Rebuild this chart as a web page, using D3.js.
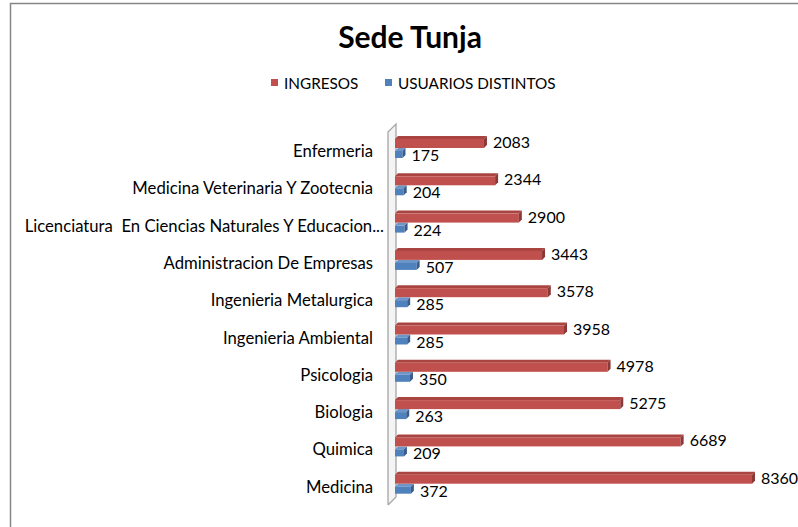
<!DOCTYPE html>
<html>
<head>
<meta charset="utf-8">
<script src="https://d3js.org/d3.v7.min.js"></script>
<style>
  body { margin: 0; background: #fff; }
  text { font-family: Lato, "Open Sans", sans-serif; fill: #000; white-space: pre; }
</style>
</head>
<body>
<div id="chart"></div>
<script>
var categories = ["Enfermeria", "Medicina Veterinaria Y Zootecnia",
    "Licenciatura  En Ciencias Naturales Y Educacion...", "Administracion De Empresas",
    "Ingenieria Metalurgica", "Ingenieria Ambiental", "Psicologia", "Biologia",
    "Quimica", "Medicina"];
var ingresos = [2083, 2344, 2900, 3443, 3578, 3958, 4978, 5275, 6689, 8360];
var usuarios = [175, 204, 224, 507, 285, 285, 350, 263, 209, 372];
var seriesNames = ["INGRESOS", "USUARIOS DISTINTOS"];

var width = 798, height = 527;
var depth = 3;

var svg = d3.select("#chart").append("svg")
    .attr("width", width)
    .attr("height", height);

// outer frame
svg.append("rect")
    .attr("x", 10.5).attr("y", 3.5)
    .attr("width", 800).attr("height", 540)
    .attr("fill", "none").attr("stroke", "#868686").attr("stroke-width", 1.5);

svg.append("text")
    .attr("x", 410).attr("y", 48)
    .attr("text-anchor", "middle")
    .style("font-size", "30px").style("font-weight", "bold")
    .text("Sede Tunja");

// legend
var legendColors = ["#C0504D", "#4F81BD"];
var legendX = [271, 385];
seriesNames.forEach(function(name, i) {
    svg.append("rect")
        .attr("x", legendX[i]).attr("y", 79)
        .attr("width", 7).attr("height", 7)
        .attr("fill", legendColors[i]);
    svg.append("text")
        .attr("x", legendX[i] + 13).attr("y", 89)
        .style("font-size", "15.3px")
        .text(name);
});

var x = d3.scaleLinear().domain([0, 8360]).range([395, 752]);
var y = d3.scaleBand().domain(categories).range([133, 506]);

// 3D wall
var wall = svg.append("g").attr("stroke", "#a6a6a6").attr("fill", "none").attr("stroke-width", 1.3);
wall.append("path").attr("d", "M388,505 L388,132 L396,124 L396,497 L388,505");
wall.select("path").attr("fill", "#f4f4f4");

// category labels
svg.selectAll(".cat")
    .data(categories)
    .enter().append("text")
    .attr("class", "cat")
    .attr("x", function(d) { return d.slice(-3) == "..." ? 384 : 373; })
    .attr("y", function(d) { return y(d) + 19 + 5; })
    .attr("text-anchor", "end")
    .style("font-size", "16.7px")
    .text(function(d) { return d; });

function bar3d(g, x0, x1, top, h, front, topCol, side) {
    g.append("path")
        .attr("d", "M" + x0 + "," + (top + depth) + " L" + (x0 + depth) + "," + top +
            " L" + (x1 + depth) + "," + top + " L" + x1 + "," + (top + depth) + "Z")
        .attr("fill", topCol);
    g.append("rect")
        .attr("x", x0).attr("y", top + depth)
        .attr("width", x1 - x0).attr("height", h - depth)
        .attr("fill", front);
    g.append("path")
        .attr("d", "M" + x1 + "," + (top + depth) + " L" + (x1 + depth) + "," + top +
            " L" + (x1 + depth) + "," + (top + h - depth) + " L" + x1 + "," + (top + h) + "Z")
        .attr("fill", side);
}

var bars = svg.append("g");
categories.forEach(function(c, i) {
    var b = y(c);
    // blue first (behind)
    bar3d(bars, x(0), x(usuarios[i]), b + 15, 10, "#4F81BD", "#6d95c8", "#385D8A");
    bar3d(bars, x(0), x(ingresos[i]), b + 3, 12, "#C0504D", "#a94441", "#8C3836");
});

svg.selectAll(".lblI")
    .data(ingresos)
    .enter().append("text")
    .attr("x", function(d) { return x(d) + 9; })
    .attr("y", function(d, i) { return y(categories[i]) + 15; })
    .style("font-size", "16px")
    .text(function(d) { return d; });

svg.selectAll(".lblU")
    .data(usuarios)
    .enter().append("text")
    .attr("x", function(d) { return x(d) + 9; })
    .attr("y", function(d, i) { return y(categories[i]) + 28; })
    .style("font-size", "16px")
    .text(function(d) { return d; });
</script>
</body>
</html>
